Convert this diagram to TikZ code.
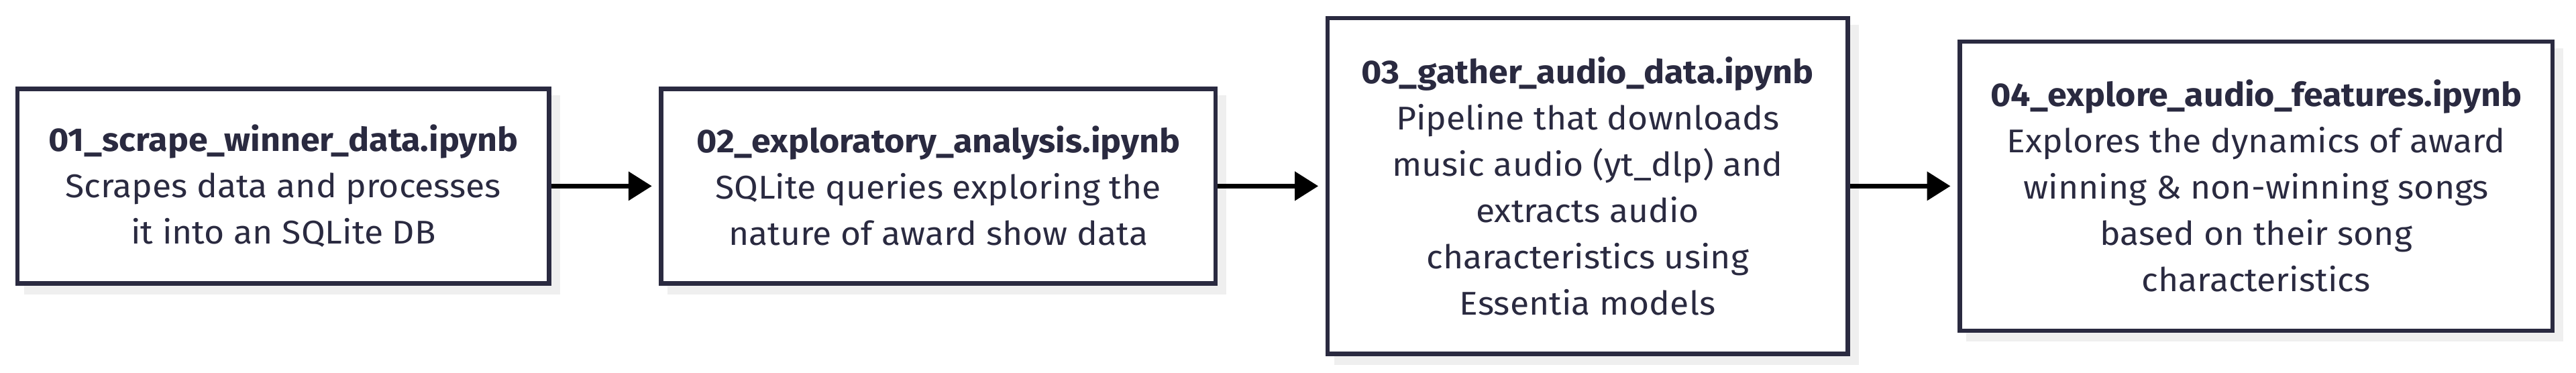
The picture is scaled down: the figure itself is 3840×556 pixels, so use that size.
\documentclass[tikz,border=0pt]{standalone}
\usepackage{fontspec}
\setmainfont{Fira Sans}[FakeStretch=1.055, BoldFeatures={FakeStretch=1.06}]
\usetikzlibrary{arrows.meta,backgrounds,calc}
\definecolor{ink}{HTML}{2A2A40}
\definecolor{shadowc}{HTML}{EFEFEF}
\begin{document}
\begin{tikzpicture}[x=0.2pt,y=-0.2pt,
  box/.style={draw=ink, line width=1.3pt, fill=white, text=ink, align=center,
    inner sep=0pt, font=\fontsize{9.8pt}{13.8pt}\selectfont},
  link/.style={draw=black, line width=1.4pt, -{Triangle[length=7pt,width=8.4pt]}, shorten >=2.1pt}]
\useasboundingbox (0,0) rectangle (3840,556);
\node[box, minimum width=158.44pt, minimum height=58.04pt] (n1) at (422.35,277.4)
  {\textbf{01\_scrape\_winner\_data.ipynb}\\Scrapes data and processes\\it into an SQLite DB};
\node[box, minimum width=165.24pt, minimum height=58.04pt] (n2) at (1398.65,277.4)
  {\textbf{02\_exploratory\_analysis.ipynb}\\SQLite queries exploring the\\nature of award show data};
\node[box, minimum width=155.06pt, minimum height=100.1pt] (n3) at (2366.6,277.4)
  {\textbf{03\_gather\_audio\_data.ipynb}\\Pipeline that downloads\\music audio (yt\_dlp) and\\extracts audio\\characteristics using\\Essentia models};
\node[box, minimum width=176.76pt, minimum height=86.24pt] (n4) at (3363.15,277.4)
  {\textbf{04\_explore\_audio\_features.ipynb}\\Explores the dynamics of award\\winning \& non-winning songs\\based on their song\\characteristics};
\begin{scope}[on background layer]
  \foreach \n in {n1,n2,n3,n4}
    \fill[shadowc] ($(\n.south west)+(13,13)$) rectangle ($(\n.north east)+(13,13)$);
\end{scope}
\draw[link] (n1.east) -- (n2.west);
\draw[link] (n2.east) -- (n3.west);
\draw[link] (n3.east) -- (n4.west);
\end{tikzpicture}
\end{document}
